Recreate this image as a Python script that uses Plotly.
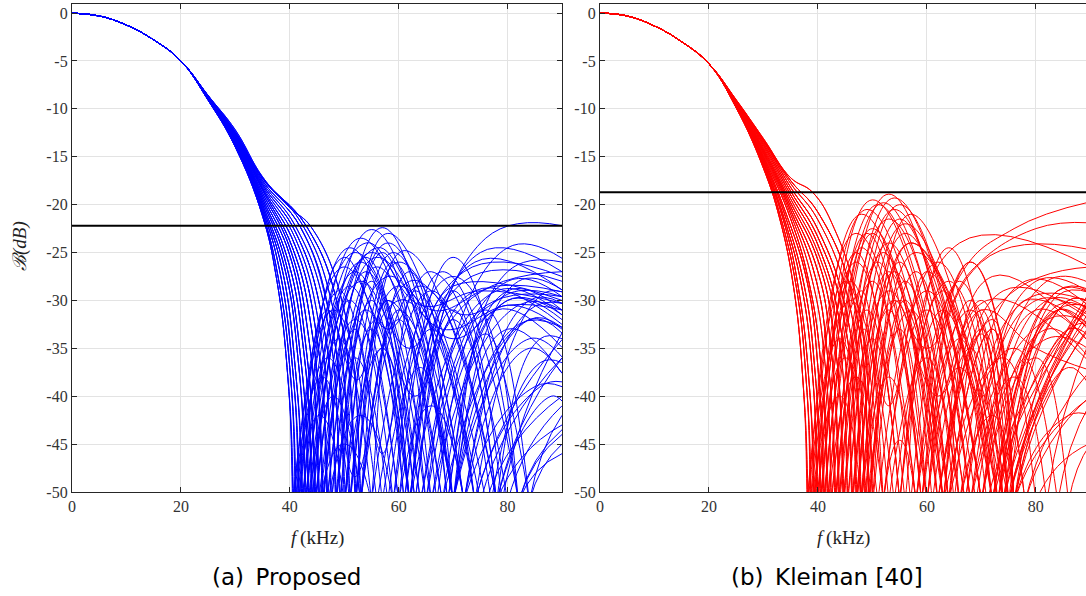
import plotly.graph_objects as go

W, H = 1086, 596

# Nulls fall far below the visible dB range; they are drawn as a notch that
# leaves the axis floor (NULL_EDGE) vertically and bottoms out at NULL_DB.
NULL_DB = -120
NULL_EDGE = -51
N = NULL_DB

# ---- shared low-frequency part of every beampattern (kHz, dB) ----
LEFT_HEAD_F = [0, 5, 10, 15, 20]
LEFT_HEAD_DB = [0, -0.3, -1.25, -2.8, -5.0]
RIGHT_HEAD_F = [0, 5, 10, 15, 20]
RIGHT_HEAD_DB = [0, -0.3, -1.35, -3.0, -5.3]

# ---- main-lobe roll-off variants (kHz, dB), down to just above the first null ----
LEFT_LOBES = [
    [(25, -9.10), (30, -14.0), (35, -21.2), (37.5, -27.5), (39.5, -37)],
    [(25, -9.07), (30, -13.9), (35, -20.9), (38, -28.0), (40, -37)],
    [(25, -9.04), (30, -13.8), (35, -20.6), (38, -26.5), (40.5, -37)],
    [(25, -9.01), (30, -13.7), (35, -20.3), (38.5, -26.5), (41, -37)],
    [(25, -8.98), (30, -13.6), (35, -20.0), (39, -26.5), (41.5, -36)],
    [(25, -8.95), (30, -13.5), (35, -19.7), (39, -25.5), (42, -36)],
    [(25, -8.92), (30, -13.4), (35, -19.4), (39.5, -25.5), (42.5, -35)],
    [(25, -8.89), (30, -13.3), (35, -19.1), (40, -25.3), (43, -35)],
    [(25, -8.86), (30, -13.2), (35, -18.8), (40, -24.5), (43.5, -34)],
    [(25, -8.83), (30, -13.1), (35, -18.5), (40.5, -24.5), (44, -33)],
    [(25, -8.80), (30, -13.0), (35, -18.3), (41, -24.3), (45, -34)],
    [(25, -8.77), (30, -12.9), (35, -18.1), (41, -23.5), (45.5, -33)],
    [(25, -8.74), (30, -12.8), (35, -17.9), (41, -22.8), (46, -32)],
    [(25, -8.71), (30, -12.7), (35, -17.7), (41, -22.2), (46.5, -31)],
    [(25, -8.68), (30, -12.6), (35, -17.5), (42, -22.4), (47.5, -32)],
    [(25, -8.65), (30, -12.5), (35, -17.3), (42, -21.8), (48, -31)],
    [(25, -8.62), (30, -12.4), (35, -17.2), (43, -22.2), (49, -31)],
    [(25, -8.60), (30, -12.2), (35, -17.1), (40, -20.3), (44, -22.4), (50, -31)],
]
RIGHT_LOBES = [
    [(25, -9.90), (30, -16.2), (33, -21.5), (35.5, -28.5), (37.2, -38)],
    [(25, -9.85), (30, -16.0), (33, -21.0), (36, -28.5), (37.8, -38)],
    [(25, -9.80), (30, -15.8), (34, -22.3), (36.5, -29.0), (38.3, -38)],
    [(25, -9.75), (30, -15.6), (34, -21.8), (37, -28.5), (38.9, -37)],
    [(25, -9.70), (30, -15.4), (34, -21.2), (37.5, -28.5), (39.4, -37)],
    [(25, -9.65), (30, -15.2), (34, -20.7), (38, -28.0), (40, -37)],
    [(25, -9.60), (30, -15.0), (35, -21.5), (38.5, -28.5), (40.6, -37)],
    [(25, -9.55), (30, -14.8), (35, -21.0), (39, -28.0), (41.2, -36)],
    [(25, -9.50), (30, -14.6), (35, -20.6), (39.5, -27.5), (41.8, -36)],
    [(25, -9.45), (30, -14.4), (35, -20.2), (40, -27.0), (42.4, -35)],
    [(25, -9.40), (30, -14.2), (35, -19.8), (40, -25.8), (43, -34)],
    [(25, -9.35), (30, -14.0), (35, -19.4), (40, -25.0), (43.6, -33)],
    [(25, -9.30), (30, -13.8), (35, -19.0), (40, -24.2), (44.2, -33)],
    [(25, -9.25), (30, -13.6), (35, -18.6), (40, -23.4), (44.8, -32)],
    [(25, -9.20), (30, -13.4), (35, -18.2), (40, -22.6), (45.5, -32)],
    [(25, -9.15), (30, -13.3), (35, -17.8), (40, -21.6), (46, -31)],
    [(25, -9.10), (30, -13.2), (35, -17.5), (40, -20.8), (46.5, -30)],
    [(25, -9.05), (30, -13.1), (35, -17.2), (39, -18.7), (43, -22.5), (47.5, -31)],
]

# ---- side-lobe structure per pattern: (main-lobe variant, knots) ----
LEFT_TAILS = [
    (0, [(40.5, N), (50, -26.5), (62, N), (78, -29), (90, -31.5)]),
    (0, [(40.6, N), (48, -31), (56, N), (70, -27.5), (84, N), (90, -42)]),
    (1, [(41.0, N), (51, -24.5), (64, N), (80, -28), (90, -29.6)]),
    (1, [(41.1, N), (47, -36), (53, N), (64, -28.5), (78, N), (88, -40), (90, -40.5)]),
    (2, [(41.6, N), (52, -25), (66, N), (82, -30.5), (90, -31)]),
    (2, [(41.7, N), (47, -31), (52.3, -38.3), (58, -30), (70, N), (84, -32), (90, -32.8)]),
    (3, [(42.2, N), (53, -23.5), (68, N), (84, -32), (90, -33.4)]),
    (3, [(42.3, N), (52, -27), (62, N), (74, -26), (90, -28.9)]),
    (4, [(42.8, N), (54, -24), (64, -30.5), (75, -29), (90, -30.3)]),
    (4, [(42.9, N), (49, -34), (55, N), (66, -29), (77, N), (86, -36.5), (90, -36.5)]),
    (5, [(43.4, N), (53, -26), (65, N), (78, -31), (90, -34.9)]),
    (5, [(43.5, N), (55, -25), (70, N), (84, -34), (90, -35.9)]),
    (6, [(44.0, N), (55, -22.6), (70, N), (82, -32.5), (90, -32.8)]),
    (6, [(44.1, N), (51, -30), (59, N), (72, -27), (90, -27.5)]),
    (7, [(44.6, N), (56, -24.5), (66, -31), (78, -28.5), (90, -29.1)]),
    (7, [(44.7, N), (52, -32), (60, N), (66, -41), (72, N), (84, -30), (90, -30.3)]),
    (8, [(45.3, N), (56, -25.5), (72, N), (85, -39), (90, -39)]),
    (8, [(45.4, N), (50, -45), (55, N), (62, -28), (72, -31.5), (82, -29), (90, -29.6)]),
    (9, [(46.0, N), (57, -22.4), (70, N), (80, -33), (90, -37.6)]),
    (9, [(46.1, N), (54, -27), (64, N), (80, -24.5), (90, -25.6)]),
    (10, [(46.8, N), (56, -26.5), (68, N), (80, -30), (90, -32)]),
    (10, [(46.9, N), (52, -36), (58, N), (66, -33), (74, N), (86, -29.5), (90, -29.1)]),
    (11, [(47.6, N), (58, -24), (72, N), (84, -35), (90, -37.6)]),
    (11, [(47.7, N), (55, -28), (62, N), (76, -23.5), (90, -22.2)]),
    (12, [(48.4, N), (57, -25), (66, N), (76, -33.5), (82, N), (90, -43.5)]),
    (12, [(48.5, N), (58, -27.5), (68, -33), (80, -30.5), (90, -31)]),
    (13, [(49.2, N), (58, -23), (74, N), (90, -34.1)]),
    (13, [(49.3, N), (55, -33), (61, N), (70, -29), (79, N), (90, -33.4)]),
    (14, [(50.0, N), (59, -25), (72, N), (84, -31), (90, -30.3)]),
    (14, [(52, -48.4), (60, -31), (70, N), (82, -28), (90, -28.9)]),
    (15, [(51.0, N), (59, -26), (69, N), (80, -29), (90, -31)]),
    (15, [(51.1, N), (60, -28.5), (75, N), (90, -36)]),
    (16, [(52.0, N), (60, -26), (76, N), (90, -40)]),
    (16, [(52.1, N), (57, -35), (63, N), (74, -29), (90, -32.5)]),
    (17, [(53.0, N), (61, -24.8), (78, N), (90, -43)]),
    (17, [(53.1, N), (62, -27), (70, N), (80, -27), (90, -26)]),
    (0, [(40.7, N), (46, -38), (51, N), (60, -30), (70, -34), (80, -30.5), (90, -33)]),
    (2, [(41.8, N), (49, -29), (57, N), (64, -37), (69, N), (80, -30), (90, -31.5)]),
    (4, [(43.0, N), (51, -28.5), (60, N), (70, -25.5), (82, N), (90, -44)]),
    (6, [(44.2, N), (53, -28), (62, -35), (70, -28.5), (90, -30)]),
    (8, [(45.5, N), (54, -31), (62, N), (70, -31), (78, N), (86, -34), (90, -34)]),
    (10, [(47.0, N), (53, -42), (59, N), (68, -27), (82, N), (90, -46)]),
    (12, [(48.6, N), (55, -30), (61, N), (72, -30.5), (90, -27)]),
    (14, [(50.2, N), (56, -32), (63, -40), (70, -32), (78, N), (90, -36)]),
    (16, [(52.2, N), (58, -30), (65, N), (75, -31), (90, -29.6)]),
    (1, [(41.2, N), (45.5, -42), (50, N), (57, -35), (62, N), (72, -28), (90, -28)]),
    (3, [(42.4, N), (50, -25.5), (58, -33), (66, -27), (80, N), (90, -41)]),
    (5, [(43.6, N), (48, -40), (53, N), (60, -32), (67, N), (76, -31), (84, N), (90, -45)]),
    (7, [(44.8, N), (54, -25.5), (63, N), (75, -25), (90, -27)]),
    (9, [(46.2, N), (52, -33), (57, -46), (63, -29), (74, N), (86, -39), (90, -38.5)]),
]
RIGHT_TAILS = [
    (0, [(38.0, N), (47, -23), (60, N), (70, -30), (76, N), (86, -33), (90, -33.8)]),
    (0, [(38.1, N), (45, -28), (52, N), (62, -26), (73, N), (84, -29), (90, -28.9)]),
    (1, [(38.6, N), (48, -21), (63, N), (74, -36), (80, N), (90, -44.9)]),
    (1, [(38.7, N), (46, -30), (54, N), (64, -28), (74, N), (86, -30), (90, -30.2)]),
    (2, [(39.2, N), (49, -20.5), (64, N), (76, -35), (84, N), (90, -40.7)]),
    (2, [(39.3, N), (47, -26), (56, N), (66, -24), (90, -26.5)]),
    (3, [(39.8, N), (50, -19.5), (66, N), (82, -32), (90, -32.4)]),
    (3, [(39.9, N), (45, -36), (51, N), (60, -29), (70, N), (80, -31), (90, -34.5)]),
    (4, [(40.4, N), (51, -20), (66, N), (78, -28), (90, -30.7)]),
    (4, [(40.5, N), (48, -24.5), (58, N), (68, -31), (75, N), (84, -29.5), (90, -29.2)]),
    (5, [(41.0, N), (52, -19.8), (67, N), (80, -30), (90, -31.7)]),
    (5, [(41.1, N), (48, -29), (53, -41), (60, -27), (72, N), (84, -31), (90, -33.4)]),
    (6, [(41.7, N), (53, -18.9), (68, N), (82, -34), (90, -35.2)]),
    (6, [(41.8, N), (50, -23), (60, N), (70, -26), (90, -24.7)]),
    (7, [(42.4, N), (53, -21.5), (67, N), (78, -30), (90, -30.2)]),
    (7, [(42.5, N), (50, -28), (57, N), (66, -27.5), (76, -22.5), (90, -19.7)]),
    (8, [(43.1, N), (54, -19.3), (70, N), (82, -33), (90, -36.2)]),
    (8, [(43.2, N), (49, -31), (55, N), (64, -24.5), (74, N), (84, -31), (90, -32.8)]),
    (9, [(43.8, N), (54, -20.5), (69, N), (82, -28), (90, -28.2)]),
    (9, [(43.9, N), (48.5, -33), (52, N), (55, -44.6), (58, N), (68, -26), (78, N), (90, -37.3)]),
    (10, [(44.6, N), (55, -20), (70, N), (82, -30), (90, -31)]),
    (10, [(44.7, N), (52, -25), (62, N), (74, -30), (90, -26.5)]),
    (11, [(45.4, N), (55, -21.5), (68, N), (80, -28), (90, -29.2)]),
    (11, [(45.5, N), (53, -27), (61, N), (68, -35), (73, N), (84, -30.5), (90, -31)]),
    (12, [(46.2, N), (56, -22), (72, N), (84, -31), (90, -30.7)]),
    (12, [(46.3, N), (53, -29), (60, -35), (68, -27), (80, -22.5), (90, -21.9)]),
    (13, [(47.0, N), (56, -23), (70, N), (80, -36), (86, N), (90, -45)]),
    (13, [(47.1, N), (53, -31), (59, N), (66, -37), (72, N), (84, -29), (90, -29.2)]),
    (14, [(47.8, N), (57, -24), (73, N), (86, -33), (90, -32.4)]),
    (14, [(47.9, N), (55, -26), (63, N), (70, -33), (76, N), (86, -37), (90, -39)]),
    (15, [(48.6, N), (57, -21), (73, N), (86, -30), (90, -30.2)]),
    (15, [(48.7, N), (56, -28), (64, N), (72, -27.5), (90, -34.5)]),
    (16, [(49.3, N), (58, -25), (74, N), (90, -31.7)]),
    (16, [(49.4, N), (55, -33), (60, N), (68, -30), (75, N), (90, -32.8)]),
    (17, [(50.0, N), (57, -24), (75, N), (90, -29.5)]),
    (17, [(50.1, N), (58, -27), (66, N), (72, -42), (76, N), (90, -40.1)]),
    (0, [(38.2, N), (44, -34), (49, N), (57, -31), (64, N), (72, -33), (76, N), (90, -29.8)]),
    (2, [(39.4, N), (46, -28), (53, N), (60, -36), (65, N), (74, -29), (90, -32)]),
    (4, [(40.6, N), (49, -23), (59, N), (68, -26), (78, N), (90, -40)]),
    (6, [(41.9, N), (47, -38), (52, N), (60, -31), (68, N), (76, -38), (82, N), (90, -34)]),
    (8, [(43.3, N), (51, -26), (59, N), (66, -34), (72, N), (90, -30.5)]),
    (10, [(44.8, N), (50, -34), (55, N), (63, -29), (70, -40), (78, -30), (90, -33)]),
    (12, [(46.4, N), (54, -27), (63, N), (70, -31), (75, N), (90, -31)]),
    (14, [(48.0, N), (53, -38), (58, N), (66, -28), (75, N), (90, -30)]),
    (16, [(49.5, N), (56, -30), (62, N), (70, -33.5), (74, N), (90, -29)]),
    (1, [(38.8, N), (44, -40), (48, N), (55, -30), (63, N), (71, -30), (90, -36.5)]),
    (3, [(40.0, N), (47, -25), (55, N), (63, -31), (71, N), (90, -30)]),
    (5, [(41.2, N), (50, -22.5), (62, N), (72, -32), (76, N), (90, -32.5)]),
    (9, [(44.0, N), (53, -24), (64, N), (72, -33), (76, N), (86, -42), (90, -42)]),
    (13, [(47.2, N), (54, -30), (62, -40), (70, -31), (80, -35), (90, -37.3)]),
]

# Maximum side-lobe level reference lines (dB)
LEFT_SLL = -22.2
RIGHT_SLL = -18.7

X_TICKS = [0, 20, 40, 60, 80]
Y_TICKS = [0, -5, -10, -15, -20, -25, -30, -35, -40, -45, -50]
Y_TICK_TEXT = ["0", "-5", "-10", "-15", "-20", "-25", "-30", "-35", "-40", "-45", "-50"]

CAPTIONS = ["(a)\u2002Proposed", "(b)\u2002Kleiman [40]"]


def px(x):
    return x / W


def py(y):
    return 1 - y / H


fig = go.Figure()


def add_patterns(head_f, head_db, lobes, tails, color, xa, ya):
    for lobe_idx, knots in tails:
        pts = list(zip(head_f, head_db)) + lobes[lobe_idx]
        for f, db in knots:
            if db == NULL_DB:
                # notch: leave the floor straight down and come straight back up
                pts += [(f, NULL_EDGE), (f, NULL_DB), (f, NULL_EDGE)]
            else:
                pts.append((f, db))
        fig.add_trace(go.Scatter(
            x=[p[0] for p in pts], y=[p[1] for p in pts],
            mode="lines", line=dict(color=color, width=1, shape="spline", smoothing=1.2),
            xaxis=xa, yaxis=ya, showlegend=False, hoverinfo="skip",
        ))


add_patterns(LEFT_HEAD_F, LEFT_HEAD_DB, LEFT_LOBES, LEFT_TAILS, "#0000ff", "x", "y")
add_patterns(RIGHT_HEAD_F, RIGHT_HEAD_DB, RIGHT_LOBES, RIGHT_TAILS, "#ff0000", "x2", "y2")

fig.add_trace(go.Scatter(x=[0, 90], y=[LEFT_SLL, LEFT_SLL], mode="lines",
                         line=dict(color="black", width=2), xaxis="x", yaxis="y",
                         showlegend=False, hoverinfo="skip"))
fig.add_trace(go.Scatter(x=[0, 90], y=[RIGHT_SLL, RIGHT_SLL], mode="lines",
                         line=dict(color="black", width=2), xaxis="x2", yaxis="y2",
                         showlegend=False, hoverinfo="skip"))

tickfont = dict(family="Liberation Serif, Times New Roman, serif", size=16, color="#333333")
common_x = dict(tickvals=X_TICKS, ticks="inside", ticklen=5, tickcolor="#262626",
                showline=True, linecolor="#262626", linewidth=1.2, automargin=False,
                showgrid=True, gridcolor="#e3e3e3", gridwidth=1, zeroline=False,
                tickfont=tickfont)
common_y = dict(tickvals=Y_TICKS, ticktext=Y_TICK_TEXT, ticks="inside", ticklen=5,
                tickcolor="#262626", showline=True, linecolor="#262626", linewidth=1.2,
                showgrid=True, gridcolor="#e3e3e3", gridwidth=1, zeroline=False,
                automargin=False, range=[-50, 1.0], tickfont=tickfont)

y_dom = [py(492), py(3.5)]
fig.update_layout(
    width=W, height=H, margin=dict(l=0, r=0, t=0, b=0, pad=0, autoexpand=False),
    plot_bgcolor="white", paper_bgcolor="white",
    xaxis=dict(domain=[px(72), px(562)], range=[0, 90], mirror="ticks", anchor="y", **common_x),
    yaxis=dict(domain=y_dom, mirror="ticks", anchor="x", **common_y),
    xaxis2=dict(domain=[px(600), 1.0], range=[0, 89.2], mirror="ticks", anchor="y2", **common_x),
    yaxis2=dict(domain=y_dom, mirror=False, anchor="x2", **common_y),
)

serif = "Liberation Serif, DejaVu Serif, serif"
sans = "DejaVu Sans, sans-serif"
annotations = [
    dict(x=px(317), y=py(538), text="<i>f</i>\u2009(kHz)", font=dict(family=serif, size=19, color="#222")),
    dict(x=px(843), y=py(538), text="<i>f</i>\u2009(kHz)", font=dict(family=serif, size=19, color="#222")),
    dict(x=px(20), y=py(246), text="<i>ℬ(dB)</i>", textangle=-90,
         font=dict(family=serif, size=19, color="#222")),
    dict(x=px(286), y=py(577), text=CAPTIONS[0], font=dict(family=sans, size=23, color="black")),
    dict(x=px(827), y=py(577), text=CAPTIONS[1], font=dict(family=sans, size=23, color="black")),
]
for a in annotations:
    a.update(xref="paper", yref="paper", showarrow=False, xanchor="center", yanchor="middle")
fig.update_layout(annotations=annotations)

fig.write_html("out.html")
